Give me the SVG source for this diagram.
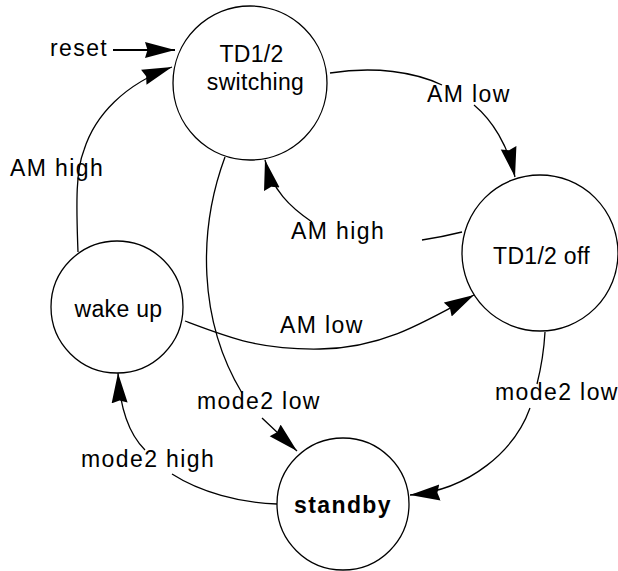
<svg xmlns="http://www.w3.org/2000/svg" width="618" height="571" viewBox="0 0 618 571">
<style>
  .node circle { fill: #ffffff; stroke: #000000; stroke-width: 1.3; }
  .nlabel { font-family: "Liberation Sans", Arial, Helvetica, sans-serif; font-size: 23px; fill: #000000; text-anchor: middle; letter-spacing: 0.3px; }
  .bold { font-weight: bold; letter-spacing: 1.4px; }
  .elabel { font-family: "Liberation Sans", Arial, Helvetica, sans-serif; font-size: 23px; fill: #000000; letter-spacing: 1.4px; }
  .edge { fill: none; stroke: #000000; stroke-width: 1.3; marker-end: url(#arrow); }
  .thick { stroke-width: 1.8; }
</style>
<defs>
  <marker id="arrow" markerUnits="userSpaceOnUse" viewBox="0 0 30 17" markerWidth="30" markerHeight="17" refX="30" refY="8.5" orient="auto">
    <path d="M0,0.5 L30,8.5 L0,16.5 L2.5,8.5 Z" fill="#000000"/>
  </marker>
</defs>
<rect width="618" height="571" fill="#ffffff"/>

<g id="connectors">
  <path id="e-reset" class="edge thick" d="M113,50 L175,50"/>
  <path id="e-wake-switch" class="edge" d="M78,252 C76,200 76,170 84,150 C95,115 125,84 172,67"/>
  <path id="e-switch-off" class="edge" d="M330,73 C375,66 415,72 442,85 M474,105 C492,120 508,145 515,177"/>
  <path id="e-off-switch" class="edge" d="M462,232 C450,235 435,238 422,240 M312,222 C290,207 272,190 265,160"/>
  <path id="e-wake-off" class="edge" d="M185,321 C230,338 260,350 320,349 C380,348 420,325 474,295"/>
  <path id="e-switch-standby" class="edge" d="M225,157 C198,230 198,320 242,393 M262,418 L297,451"/>
  <path id="e-off-standby" class="edge" d="M545,332 C544,350 541,368 537,384 M530,408 C515,450 470,490 410,495"/>
  <path id="e-standby-wake" class="edge" d="M277,504 C240,503 200,492 172,474 M145,450 C130,435 120,410 118,373"/>
</g>

<g id="edge-labels">
  <text class="elabel" x="50" y="56">reset</text>
  <text class="elabel" x="10" y="176">AM high</text>
  <text class="elabel" x="427" y="102">AM low</text>
  <text class="elabel" x="291" y="239">AM high</text>
  <text class="elabel" x="280" y="333">AM low</text>
  <text class="elabel" x="197" y="409">mode2 low</text>
  <text class="elabel" x="495" y="400">mode2 low</text>
  <text class="elabel" x="81" y="467">mode2 high</text>
</g>

<g id="node-switching" class="node">
  <circle cx="250" cy="83" r="77"/>
  <text class="nlabel" x="251.5" y="62">TD1/2</text>
  <text class="nlabel" x="255.5" y="90">switching</text>
</g>
<g id="node-off" class="node">
  <circle cx="540" cy="253" r="78"/>
  <text class="nlabel" x="541.5" y="264">TD1/2 off</text>
</g>
<g id="node-wakeup" class="node">
  <circle cx="117" cy="307" r="66"/>
  <text class="nlabel" x="118.5" y="317">wake up</text>
</g>
<g id="node-standby" class="node">
  <circle cx="343" cy="504" r="66"/>
  <text class="nlabel bold" x="343" y="513">standby</text>
</g>
</svg>
